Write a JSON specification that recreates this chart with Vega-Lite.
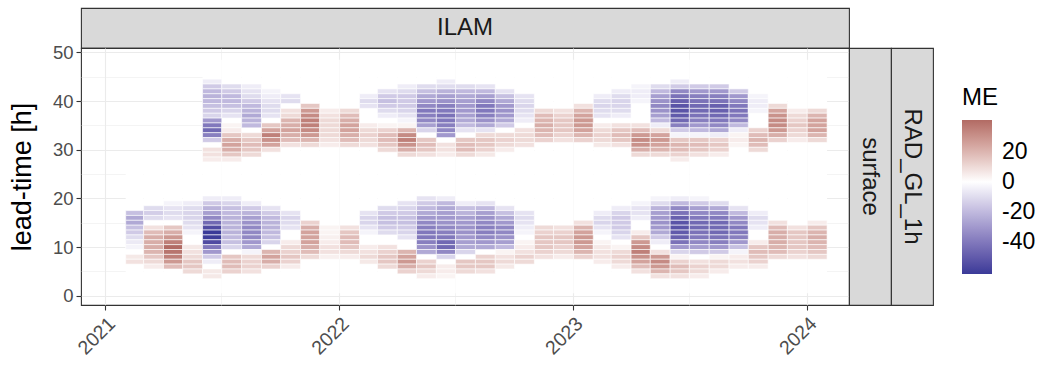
{
"$schema": "https://vega.github.io/schema/vega-lite/v6.json",
"background": "white",
"padding": {"left": 7, "top": 7, "right": 5, "bottom": 5},
"config": {"font": "Liberation Sans", "view": {"stroke": null}, "concat": {"spacing": 0}},
"bounds": "flush",
"spacing": 0,
"vconcat": [
{"width": 768, "height": 40,
 "data": {"values": [{"s": "ILAM"}]},
 "mark": {"type": "text", "fontSize": 24, "color": "#1A1A1A"},
 "encoding": {"text": {"field": "s", "type": "nominal"}},
 "view": {"fill": "#D9D9D9", "stroke": "#333333", "strokeWidth": 1.1}},
{"hconcat": [
 {"width": 768, "height": 257,
  "view": {"stroke": "#333333", "strokeWidth": 1.1},
  "layer": [
   {"data": {"values": [
{"m":"2021-02","lo":0.5,"hi":27.5},{"m":"2021-03","lo":0.5,"hi":27.5},{"m":"2021-04","lo":0.5,"hi":27.5},{"m":"2021-05","lo":0.5,"hi":27.5},
{"m":"2021-06","lo":0.5,"hi":48.5},{"m":"2021-07","lo":0.5,"hi":48.5},{"m":"2021-08","lo":0.5,"hi":48.5},{"m":"2021-09","lo":0.5,"hi":48.5},
{"m":"2021-10","lo":0.5,"hi":48.5},{"m":"2021-11","lo":0.5,"hi":48.5},{"m":"2021-12","lo":0.5,"hi":48.5},{"m":"2022-01","lo":0.5,"hi":48.5},
{"m":"2022-02","lo":0.5,"hi":48.5},{"m":"2022-03","lo":0.5,"hi":48.5},{"m":"2022-04","lo":0.5,"hi":48.5},{"m":"2022-05","lo":0.5,"hi":48.5},
{"m":"2022-06","lo":0.5,"hi":48.5},{"m":"2022-07","lo":0.5,"hi":48.5},{"m":"2022-08","lo":0.5,"hi":48.5},{"m":"2022-09","lo":0.5,"hi":48.5},
{"m":"2022-10","lo":0.5,"hi":48.5},{"m":"2022-11","lo":0.5,"hi":48.5},{"m":"2022-12","lo":0.5,"hi":48.5},{"m":"2023-01","lo":0.5,"hi":48.5},
{"m":"2023-02","lo":0.5,"hi":48.5},{"m":"2023-03","lo":0.5,"hi":48.5},{"m":"2023-04","lo":0.5,"hi":48.5},{"m":"2023-05","lo":0.5,"hi":48.5},
{"m":"2023-06","lo":0.5,"hi":48.5},{"m":"2023-07","lo":0.5,"hi":48.5},{"m":"2023-08","lo":0.5,"hi":48.5},{"m":"2023-09","lo":0.5,"hi":48.5},
{"m":"2023-10","lo":0.5,"hi":48.5},{"m":"2023-11","lo":0.5,"hi":48.5},{"m":"2023-12","lo":0.5,"hi":48.5},{"m":"2024-01","lo":0.5,"hi":48.5}
    ]},
    "mark": {"type": "rect", "fill": "white"},
    "encoding": {
     "x": {"field": "m", "type": "temporal", "timeUnit": "utcyearmonth",
       "scale": {"domain": [{"year": 2020, "month": 11, "date": 24, "utc": true}, {"year": 2024, "month": 3, "date": 7, "utc": true}]},
       "axis": {"orient": "top", "values": [{"year": 2021, "month": 7, "date": 1, "utc": true}, {"year": 2022, "month": 7, "date": 1, "utc": true}, {"year": 2023, "month": 7, "date": 1, "utc": true}],
         "grid": true, "gridColor": "#EBEBEB", "gridWidth": 0.55, "labels": false, "ticks": false, "domain": false, "title": null}},
     "y": {"field": "lo", "type": "quantitative",
       "scale": {"domain": [-1.9, 50.9], "nice": false, "zero": false},
       "axis": {"orient": "right", "values": [5, 15, 25, 35, 45], "grid": true, "gridColor": "#EBEBEB", "gridWidth": 0.55, "labels": false, "ticks": false, "domain": false, "title": null}},
     "y2": {"field": "hi"}
    }
   },
   {"data": {"values": [
{"m":"2021-02","h":17,"v":-18},{"m":"2021-02","h":16,"v":-25},{"m":"2021-02","h":15,"v":-25},{"m":"2021-02","h":14,"v":-18},{"m":"2021-02","h":13,"v":-15},{"m":"2021-02","h":12,"v":-10},{"m":"2021-02","h":11,"v":-6},{"m":"2021-02","h":10,"v":-3},{"m":"2021-02","h":8,"v":6},{"m":"2021-02","h":7,"v":8},
{"m":"2021-03","h":18,"v":-10},{"m":"2021-03","h":17,"v":-14},{"m":"2021-03","h":16,"v":-10},{"m":"2021-03","h":14,"v":8},{"m":"2021-03","h":13,"v":18},{"m":"2021-03","h":12,"v":22},{"m":"2021-03","h":11,"v":22},{"m":"2021-03","h":10,"v":22},{"m":"2021-03","h":9,"v":20},{"m":"2021-03","h":8,"v":15},{"m":"2021-03","h":7,"v":10},{"m":"2021-03","h":6,"v":5},
{"m":"2021-04","h":19,"v":-3},{"m":"2021-04","h":18,"v":-8},{"m":"2021-04","h":17,"v":-10},{"m":"2021-04","h":16,"v":-8},{"m":"2021-04","h":14,"v":15},{"m":"2021-04","h":13,"v":22},{"m":"2021-04","h":12,"v":28},{"m":"2021-04","h":11,"v":35},{"m":"2021-04","h":10,"v":41},{"m":"2021-04","h":9,"v":38},{"m":"2021-04","h":8,"v":35},{"m":"2021-04","h":7,"v":28},{"m":"2021-04","h":6,"v":18},
{"m":"2021-05","h":19,"v":-5},{"m":"2021-05","h":18,"v":-10},{"m":"2021-05","h":17,"v":-12},{"m":"2021-05","h":16,"v":-12},{"m":"2021-05","h":15,"v":-10},{"m":"2021-05","h":14,"v":-8},{"m":"2021-05","h":13,"v":-3},{"m":"2021-05","h":10,"v":6},{"m":"2021-05","h":9,"v":8},{"m":"2021-05","h":8,"v":10},{"m":"2021-05","h":7,"v":15},{"m":"2021-05","h":6,"v":15},{"m":"2021-05","h":5,"v":10},
{"m":"2021-06","h":20,"v":-5},{"m":"2021-06","h":19,"v":-15},{"m":"2021-06","h":18,"v":-22},{"m":"2021-06","h":17,"v":-28},{"m":"2021-06","h":16,"v":-35},{"m":"2021-06","h":15,"v":-45},{"m":"2021-06","h":14,"v":-55},{"m":"2021-06","h":13,"v":-61},{"m":"2021-06","h":12,"v":-60},{"m":"2021-06","h":11,"v":-55},{"m":"2021-06","h":10,"v":-40},{"m":"2021-06","h":9,"v":-30},{"m":"2021-06","h":8,"v":-15},{"m":"2021-06","h":7,"v":-5},{"m":"2021-06","h":5,"v":6},{"m":"2021-06","h":4,"v":6},
{"m":"2021-06","h":44,"v":-5},{"m":"2021-06","h":43,"v":-15},{"m":"2021-06","h":42,"v":-20},{"m":"2021-06","h":41,"v":-22},{"m":"2021-06","h":40,"v":-20},{"m":"2021-06","h":39,"v":-18},{"m":"2021-06","h":38,"v":-15},{"m":"2021-06","h":37,"v":-12},{"m":"2021-06","h":36,"v":-30},{"m":"2021-06","h":35,"v":-40},{"m":"2021-06","h":34,"v":-45},{"m":"2021-06","h":33,"v":-38},{"m":"2021-06","h":32,"v":-15},{"m":"2021-06","h":30,"v":8},{"m":"2021-06","h":29,"v":8},{"m":"2021-06","h":28,"v":5},
{"m":"2021-07","h":20,"v":-5},{"m":"2021-07","h":19,"v":-12},{"m":"2021-07","h":18,"v":-18},{"m":"2021-07","h":17,"v":-20},{"m":"2021-07","h":16,"v":-22},{"m":"2021-07","h":15,"v":-22},{"m":"2021-07","h":14,"v":-22},{"m":"2021-07","h":13,"v":-22},{"m":"2021-07","h":12,"v":-20},{"m":"2021-07","h":11,"v":-18},{"m":"2021-07","h":10,"v":-12},{"m":"2021-07","h":8,"v":15},{"m":"2021-07","h":7,"v":18},{"m":"2021-07","h":6,"v":18},{"m":"2021-07","h":5,"v":12},
{"m":"2021-07","h":43,"v":-10},{"m":"2021-07","h":42,"v":-15},{"m":"2021-07","h":41,"v":-20},{"m":"2021-07","h":40,"v":-20},{"m":"2021-07","h":39,"v":-18},{"m":"2021-07","h":38,"v":-12},{"m":"2021-07","h":37,"v":-8},{"m":"2021-07","h":35,"v":3},{"m":"2021-07","h":34,"v":5},{"m":"2021-07","h":33,"v":15},{"m":"2021-07","h":32,"v":22},{"m":"2021-07","h":31,"v":25},{"m":"2021-07","h":30,"v":22},{"m":"2021-07","h":29,"v":15},{"m":"2021-07","h":28,"v":5},
{"m":"2021-08","h":19,"v":-5},{"m":"2021-08","h":18,"v":-15},{"m":"2021-08","h":17,"v":-22},{"m":"2021-08","h":16,"v":-28},{"m":"2021-08","h":15,"v":-32},{"m":"2021-08","h":14,"v":-35},{"m":"2021-08","h":13,"v":-35},{"m":"2021-08","h":12,"v":-35},{"m":"2021-08","h":11,"v":-30},{"m":"2021-08","h":10,"v":-25},{"m":"2021-08","h":9,"v":-3},{"m":"2021-08","h":8,"v":10},{"m":"2021-08","h":7,"v":12},{"m":"2021-08","h":6,"v":12},{"m":"2021-08","h":5,"v":8},
{"m":"2021-08","h":43,"v":-5},{"m":"2021-08","h":42,"v":-8},{"m":"2021-08","h":41,"v":-10},{"m":"2021-08","h":40,"v":-15},{"m":"2021-08","h":39,"v":-20},{"m":"2021-08","h":38,"v":-22},{"m":"2021-08","h":37,"v":-25},{"m":"2021-08","h":36,"v":-22},{"m":"2021-08","h":35,"v":-20},{"m":"2021-08","h":33,"v":10},{"m":"2021-08","h":32,"v":15},{"m":"2021-08","h":31,"v":18},{"m":"2021-08","h":30,"v":15},{"m":"2021-08","h":29,"v":10},
{"m":"2021-09","h":18,"v":-8},{"m":"2021-09","h":17,"v":-15},{"m":"2021-09","h":16,"v":-20},{"m":"2021-09","h":15,"v":-22},{"m":"2021-09","h":14,"v":-22},{"m":"2021-09","h":13,"v":-20},{"m":"2021-09","h":12,"v":-18},{"m":"2021-09","h":11,"v":-12},{"m":"2021-09","h":9,"v":20},{"m":"2021-09","h":8,"v":25},{"m":"2021-09","h":7,"v":22},{"m":"2021-09","h":6,"v":12},
{"m":"2021-09","h":42,"v":-3},{"m":"2021-09","h":41,"v":-5},{"m":"2021-09","h":40,"v":-8},{"m":"2021-09","h":39,"v":-10},{"m":"2021-09","h":38,"v":-10},{"m":"2021-09","h":37,"v":-8},{"m":"2021-09","h":35,"v":15},{"m":"2021-09","h":34,"v":25},{"m":"2021-09","h":33,"v":35},{"m":"2021-09","h":32,"v":30},{"m":"2021-09","h":31,"v":25},{"m":"2021-09","h":30,"v":8},
{"m":"2021-10","h":17,"v":-8},{"m":"2021-10","h":16,"v":-12},{"m":"2021-10","h":15,"v":-10},{"m":"2021-10","h":14,"v":-8},{"m":"2021-10","h":11,"v":5},{"m":"2021-10","h":10,"v":10},{"m":"2021-10","h":9,"v":12},{"m":"2021-10","h":8,"v":15},{"m":"2021-10","h":7,"v":12},{"m":"2021-10","h":6,"v":5},
{"m":"2021-10","h":41,"v":-8},{"m":"2021-10","h":40,"v":-10},{"m":"2021-10","h":38,"v":8},{"m":"2021-10","h":37,"v":10},{"m":"2021-10","h":36,"v":20},{"m":"2021-10","h":35,"v":22},{"m":"2021-10","h":34,"v":25},{"m":"2021-10","h":33,"v":22},{"m":"2021-10","h":32,"v":18},{"m":"2021-10","h":31,"v":8},
{"m":"2021-11","h":15,"v":12},{"m":"2021-11","h":14,"v":22},{"m":"2021-11","h":13,"v":25},{"m":"2021-11","h":12,"v":25},{"m":"2021-11","h":11,"v":25},{"m":"2021-11","h":10,"v":22},{"m":"2021-11","h":9,"v":18},{"m":"2021-11","h":8,"v":10},
{"m":"2021-11","h":39,"v":15},{"m":"2021-11","h":38,"v":28},{"m":"2021-11","h":37,"v":32},{"m":"2021-11","h":36,"v":35},{"m":"2021-11","h":35,"v":35},{"m":"2021-11","h":34,"v":32},{"m":"2021-11","h":33,"v":28},{"m":"2021-11","h":32,"v":20},{"m":"2021-11","h":31,"v":10},
{"m":"2021-12","h":14,"v":3},{"m":"2021-12","h":13,"v":3},{"m":"2021-12","h":12,"v":4},{"m":"2021-12","h":11,"v":5},{"m":"2021-12","h":10,"v":8},{"m":"2021-12","h":9,"v":8},{"m":"2021-12","h":8,"v":4},
{"m":"2021-12","h":38,"v":5},{"m":"2021-12","h":37,"v":8},{"m":"2021-12","h":36,"v":10},{"m":"2021-12","h":35,"v":10},{"m":"2021-12","h":34,"v":10},{"m":"2021-12","h":33,"v":10},{"m":"2021-12","h":32,"v":8},{"m":"2021-12","h":31,"v":5},
{"m":"2022-01","h":14,"v":8},{"m":"2022-01","h":13,"v":15},{"m":"2022-01","h":12,"v":18},{"m":"2022-01","h":11,"v":18},{"m":"2022-01","h":10,"v":15},{"m":"2022-01","h":9,"v":10},{"m":"2022-01","h":8,"v":5},
{"m":"2022-01","h":38,"v":10},{"m":"2022-01","h":37,"v":18},{"m":"2022-01","h":36,"v":22},{"m":"2022-01","h":35,"v":25},{"m":"2022-01","h":34,"v":25},{"m":"2022-01","h":33,"v":22},{"m":"2022-01","h":32,"v":18},{"m":"2022-01","h":31,"v":10},
{"m":"2022-02","h":17,"v":-8},{"m":"2022-02","h":16,"v":-12},{"m":"2022-02","h":15,"v":-12},{"m":"2022-02","h":14,"v":-8},{"m":"2022-02","h":13,"v":-3},{"m":"2022-02","h":10,"v":5},{"m":"2022-02","h":9,"v":8},{"m":"2022-02","h":8,"v":10},{"m":"2022-02","h":7,"v":6},
{"m":"2022-02","h":41,"v":-5},{"m":"2022-02","h":40,"v":-10},{"m":"2022-02","h":39,"v":-8},{"m":"2022-02","h":35,"v":5},{"m":"2022-02","h":34,"v":10},{"m":"2022-02","h":33,"v":12},{"m":"2022-02","h":32,"v":10},{"m":"2022-02","h":31,"v":8},
{"m":"2022-03","h":18,"v":-10},{"m":"2022-03","h":17,"v":-15},{"m":"2022-03","h":16,"v":-18},{"m":"2022-03","h":15,"v":-18},{"m":"2022-03","h":14,"v":-15},{"m":"2022-03","h":13,"v":-10},{"m":"2022-03","h":10,"v":8},{"m":"2022-03","h":9,"v":12},{"m":"2022-03","h":8,"v":15},{"m":"2022-03","h":7,"v":15},{"m":"2022-03","h":6,"v":10},
{"m":"2022-03","h":42,"v":-8},{"m":"2022-03","h":41,"v":-15},{"m":"2022-03","h":40,"v":-18},{"m":"2022-03","h":39,"v":-15},{"m":"2022-03","h":38,"v":-10},{"m":"2022-03","h":37,"v":-5},{"m":"2022-03","h":35,"v":3},{"m":"2022-03","h":34,"v":12},{"m":"2022-03","h":33,"v":18},{"m":"2022-03","h":32,"v":18},{"m":"2022-03","h":31,"v":15},{"m":"2022-03","h":30,"v":10},
{"m":"2022-04","h":19,"v":-8},{"m":"2022-04","h":18,"v":-12},{"m":"2022-04","h":17,"v":-15},{"m":"2022-04","h":16,"v":-18},{"m":"2022-04","h":15,"v":-18},{"m":"2022-04","h":14,"v":-15},{"m":"2022-04","h":13,"v":-12},{"m":"2022-04","h":12,"v":-8},{"m":"2022-04","h":9,"v":20},{"m":"2022-04","h":8,"v":25},{"m":"2022-04","h":7,"v":28},{"m":"2022-04","h":6,"v":22},{"m":"2022-04","h":5,"v":12},
{"m":"2022-04","h":43,"v":-5},{"m":"2022-04","h":42,"v":-10},{"m":"2022-04","h":41,"v":-15},{"m":"2022-04","h":40,"v":-15},{"m":"2022-04","h":39,"v":-15},{"m":"2022-04","h":38,"v":-12},{"m":"2022-04","h":37,"v":-8},{"m":"2022-04","h":36,"v":-3},{"m":"2022-04","h":35,"v":3},{"m":"2022-04","h":34,"v":20},{"m":"2022-04","h":33,"v":32},{"m":"2022-04","h":32,"v":35},{"m":"2022-04","h":31,"v":30},{"m":"2022-04","h":30,"v":22},{"m":"2022-04","h":29,"v":10},
{"m":"2022-05","h":20,"v":-8},{"m":"2022-05","h":19,"v":-15},{"m":"2022-05","h":18,"v":-20},{"m":"2022-05","h":17,"v":-25},{"m":"2022-05","h":16,"v":-30},{"m":"2022-05","h":15,"v":-35},{"m":"2022-05","h":14,"v":-38},{"m":"2022-05","h":13,"v":-40},{"m":"2022-05","h":12,"v":-40},{"m":"2022-05","h":11,"v":-38},{"m":"2022-05","h":10,"v":-32},{"m":"2022-05","h":9,"v":-25},{"m":"2022-05","h":7,"v":12},{"m":"2022-05","h":6,"v":15},{"m":"2022-05","h":5,"v":10},{"m":"2022-05","h":4,"v":5},
{"m":"2022-05","h":43,"v":-10},{"m":"2022-05","h":42,"v":-18},{"m":"2022-05","h":41,"v":-25},{"m":"2022-05","h":40,"v":-30},{"m":"2022-05","h":39,"v":-35},{"m":"2022-05","h":38,"v":-40},{"m":"2022-05","h":37,"v":-38},{"m":"2022-05","h":36,"v":-35},{"m":"2022-05","h":35,"v":-28},{"m":"2022-05","h":34,"v":-12},{"m":"2022-05","h":32,"v":15},{"m":"2022-05","h":31,"v":18},{"m":"2022-05","h":30,"v":15},{"m":"2022-05","h":29,"v":8},
{"m":"2022-06","h":20,"v":-5},{"m":"2022-06","h":19,"v":-20},{"m":"2022-06","h":18,"v":-25},{"m":"2022-06","h":17,"v":-28},{"m":"2022-06","h":16,"v":-30},{"m":"2022-06","h":15,"v":-32},{"m":"2022-06","h":14,"v":-35},{"m":"2022-06","h":13,"v":-38},{"m":"2022-06","h":12,"v":-40},{"m":"2022-06","h":11,"v":-45},{"m":"2022-06","h":10,"v":-45},{"m":"2022-06","h":9,"v":-35},{"m":"2022-06","h":8,"v":-12},{"m":"2022-06","h":6,"v":5},{"m":"2022-06","h":5,"v":5},{"m":"2022-06","h":4,"v":3},
{"m":"2022-06","h":44,"v":-5},{"m":"2022-06","h":43,"v":-10},{"m":"2022-06","h":42,"v":-22},{"m":"2022-06","h":41,"v":-28},{"m":"2022-06","h":40,"v":-32},{"m":"2022-06","h":39,"v":-38},{"m":"2022-06","h":38,"v":-40},{"m":"2022-06","h":37,"v":-42},{"m":"2022-06","h":36,"v":-40},{"m":"2022-06","h":35,"v":-38},{"m":"2022-06","h":34,"v":-35},{"m":"2022-06","h":33,"v":-30},{"m":"2022-06","h":31,"v":8},{"m":"2022-06","h":30,"v":8},{"m":"2022-06","h":29,"v":5},
{"m":"2022-07","h":19,"v":-5},{"m":"2022-07","h":18,"v":-18},{"m":"2022-07","h":17,"v":-22},{"m":"2022-07","h":16,"v":-28},{"m":"2022-07","h":15,"v":-30},{"m":"2022-07","h":14,"v":-32},{"m":"2022-07","h":13,"v":-32},{"m":"2022-07","h":12,"v":-30},{"m":"2022-07","h":11,"v":-28},{"m":"2022-07","h":10,"v":-25},{"m":"2022-07","h":9,"v":-12},{"m":"2022-07","h":7,"v":15},{"m":"2022-07","h":6,"v":15},{"m":"2022-07","h":5,"v":10},
{"m":"2022-07","h":43,"v":-10},{"m":"2022-07","h":42,"v":-20},{"m":"2022-07","h":41,"v":-25},{"m":"2022-07","h":40,"v":-28},{"m":"2022-07","h":39,"v":-30},{"m":"2022-07","h":38,"v":-30},{"m":"2022-07","h":37,"v":-28},{"m":"2022-07","h":36,"v":-25},{"m":"2022-07","h":35,"v":-20},{"m":"2022-07","h":34,"v":-8},{"m":"2022-07","h":32,"v":15},{"m":"2022-07","h":31,"v":18},{"m":"2022-07","h":30,"v":18},{"m":"2022-07","h":29,"v":10},
{"m":"2022-08","h":19,"v":-8},{"m":"2022-08","h":18,"v":-20},{"m":"2022-08","h":17,"v":-28},{"m":"2022-08","h":16,"v":-32},{"m":"2022-08","h":15,"v":-35},{"m":"2022-08","h":14,"v":-38},{"m":"2022-08","h":13,"v":-38},{"m":"2022-08","h":12,"v":-35},{"m":"2022-08","h":11,"v":-30},{"m":"2022-08","h":10,"v":-25},{"m":"2022-08","h":8,"v":12},{"m":"2022-08","h":7,"v":15},{"m":"2022-08","h":6,"v":15},{"m":"2022-08","h":5,"v":8},
{"m":"2022-08","h":43,"v":-8},{"m":"2022-08","h":42,"v":-20},{"m":"2022-08","h":41,"v":-28},{"m":"2022-08","h":40,"v":-35},{"m":"2022-08","h":39,"v":-40},{"m":"2022-08","h":38,"v":-40},{"m":"2022-08","h":37,"v":-38},{"m":"2022-08","h":36,"v":-32},{"m":"2022-08","h":35,"v":-25},{"m":"2022-08","h":34,"v":-8},{"m":"2022-08","h":33,"v":10},{"m":"2022-08","h":32,"v":15},{"m":"2022-08","h":31,"v":15},{"m":"2022-08","h":30,"v":12},{"m":"2022-08","h":29,"v":6},
{"m":"2022-09","h":18,"v":-8},{"m":"2022-09","h":17,"v":-18},{"m":"2022-09","h":16,"v":-25},{"m":"2022-09","h":15,"v":-30},{"m":"2022-09","h":14,"v":-35},{"m":"2022-09","h":13,"v":-35},{"m":"2022-09","h":12,"v":-32},{"m":"2022-09","h":11,"v":-28},{"m":"2022-09","h":10,"v":-20},{"m":"2022-09","h":9,"v":3},{"m":"2022-09","h":8,"v":8},{"m":"2022-09","h":7,"v":10},{"m":"2022-09","h":6,"v":6},
{"m":"2022-09","h":42,"v":-8},{"m":"2022-09","h":41,"v":-18},{"m":"2022-09","h":40,"v":-25},{"m":"2022-09","h":39,"v":-30},{"m":"2022-09","h":38,"v":-32},{"m":"2022-09","h":37,"v":-30},{"m":"2022-09","h":36,"v":-25},{"m":"2022-09","h":35,"v":-15},{"m":"2022-09","h":33,"v":10},{"m":"2022-09","h":32,"v":12},{"m":"2022-09","h":31,"v":10},{"m":"2022-09","h":30,"v":5},
{"m":"2022-10","h":17,"v":-8},{"m":"2022-10","h":16,"v":-10},{"m":"2022-10","h":15,"v":-8},{"m":"2022-10","h":14,"v":-5},{"m":"2022-10","h":13,"v":-3},{"m":"2022-10","h":11,"v":3},{"m":"2022-10","h":10,"v":5},{"m":"2022-10","h":9,"v":8},{"m":"2022-10","h":8,"v":12},{"m":"2022-10","h":7,"v":10},
{"m":"2022-10","h":41,"v":-8},{"m":"2022-10","h":40,"v":-10},{"m":"2022-10","h":39,"v":-12},{"m":"2022-10","h":38,"v":-10},{"m":"2022-10","h":37,"v":-8},{"m":"2022-10","h":36,"v":-5},{"m":"2022-10","h":34,"v":8},{"m":"2022-10","h":33,"v":10},{"m":"2022-10","h":32,"v":10},{"m":"2022-10","h":31,"v":8},
{"m":"2022-11","h":14,"v":10},{"m":"2022-11","h":13,"v":12},{"m":"2022-11","h":12,"v":15},{"m":"2022-11","h":11,"v":15},{"m":"2022-11","h":10,"v":15},{"m":"2022-11","h":9,"v":12},{"m":"2022-11","h":8,"v":8},
{"m":"2022-11","h":38,"v":10},{"m":"2022-11","h":37,"v":18},{"m":"2022-11","h":36,"v":20},{"m":"2022-11","h":35,"v":22},{"m":"2022-11","h":34,"v":20},{"m":"2022-11","h":33,"v":18},{"m":"2022-11","h":32,"v":12},
{"m":"2022-12","h":14,"v":8},{"m":"2022-12","h":13,"v":12},{"m":"2022-12","h":12,"v":15},{"m":"2022-12","h":11,"v":15},{"m":"2022-12","h":10,"v":12},{"m":"2022-12","h":9,"v":10},{"m":"2022-12","h":8,"v":5},
{"m":"2022-12","h":38,"v":8},{"m":"2022-12","h":37,"v":12},{"m":"2022-12","h":36,"v":15},{"m":"2022-12","h":35,"v":15},{"m":"2022-12","h":34,"v":15},{"m":"2022-12","h":33,"v":12},{"m":"2022-12","h":32,"v":8},
{"m":"2023-01","h":15,"v":8},{"m":"2023-01","h":14,"v":20},{"m":"2023-01","h":13,"v":25},{"m":"2023-01","h":12,"v":28},{"m":"2023-01","h":11,"v":28},{"m":"2023-01","h":10,"v":25},{"m":"2023-01","h":9,"v":20},{"m":"2023-01","h":8,"v":12},
{"m":"2023-01","h":39,"v":8},{"m":"2023-01","h":38,"v":20},{"m":"2023-01","h":37,"v":25},{"m":"2023-01","h":36,"v":28},{"m":"2023-01","h":35,"v":28},{"m":"2023-01","h":34,"v":25},{"m":"2023-01","h":33,"v":20},{"m":"2023-01","h":32,"v":12},
{"m":"2023-02","h":17,"v":-5},{"m":"2023-02","h":16,"v":-10},{"m":"2023-02","h":15,"v":-12},{"m":"2023-02","h":14,"v":-8},{"m":"2023-02","h":13,"v":-3},{"m":"2023-02","h":11,"v":3},{"m":"2023-02","h":10,"v":6},{"m":"2023-02","h":9,"v":8},{"m":"2023-02","h":8,"v":8},{"m":"2023-02","h":7,"v":5},
{"m":"2023-02","h":41,"v":-5},{"m":"2023-02","h":40,"v":-10},{"m":"2023-02","h":39,"v":-12},{"m":"2023-02","h":38,"v":-10},{"m":"2023-02","h":37,"v":-8},{"m":"2023-02","h":35,"v":5},{"m":"2023-02","h":34,"v":10},{"m":"2023-02","h":33,"v":12},{"m":"2023-02","h":32,"v":10},{"m":"2023-02","h":31,"v":6},
{"m":"2023-03","h":18,"v":-5},{"m":"2023-03","h":17,"v":-12},{"m":"2023-03","h":16,"v":-15},{"m":"2023-03","h":15,"v":-15},{"m":"2023-03","h":14,"v":-15},{"m":"2023-03","h":13,"v":-12},{"m":"2023-03","h":12,"v":-8},{"m":"2023-03","h":10,"v":3},{"m":"2023-03","h":9,"v":10},{"m":"2023-03","h":8,"v":12},{"m":"2023-03","h":7,"v":10},{"m":"2023-03","h":6,"v":5},
{"m":"2023-03","h":42,"v":-5},{"m":"2023-03","h":41,"v":-10},{"m":"2023-03","h":40,"v":-12},{"m":"2023-03","h":39,"v":-12},{"m":"2023-03","h":38,"v":-10},{"m":"2023-03","h":37,"v":-5},{"m":"2023-03","h":35,"v":8},{"m":"2023-03","h":34,"v":15},{"m":"2023-03","h":33,"v":18},{"m":"2023-03","h":32,"v":15},{"m":"2023-03","h":31,"v":8},
{"m":"2023-04","h":19,"v":-3},{"m":"2023-04","h":18,"v":-8},{"m":"2023-04","h":17,"v":-8},{"m":"2023-04","h":16,"v":-5},{"m":"2023-04","h":13,"v":5},{"m":"2023-04","h":12,"v":15},{"m":"2023-04","h":11,"v":28},{"m":"2023-04","h":10,"v":32},{"m":"2023-04","h":9,"v":35},{"m":"2023-04","h":8,"v":30},{"m":"2023-04","h":7,"v":25},{"m":"2023-04","h":6,"v":18},{"m":"2023-04","h":5,"v":8},
{"m":"2023-04","h":43,"v":-3},{"m":"2023-04","h":42,"v":-5},{"m":"2023-04","h":41,"v":-5},{"m":"2023-04","h":40,"v":-3},{"m":"2023-04","h":35,"v":8},{"m":"2023-04","h":34,"v":18},{"m":"2023-04","h":33,"v":28},{"m":"2023-04","h":32,"v":32},{"m":"2023-04","h":31,"v":30},{"m":"2023-04","h":30,"v":22},{"m":"2023-04","h":29,"v":10},
{"m":"2023-05","h":20,"v":-3},{"m":"2023-05","h":19,"v":-10},{"m":"2023-05","h":18,"v":-22},{"m":"2023-05","h":17,"v":-28},{"m":"2023-05","h":16,"v":-30},{"m":"2023-05","h":15,"v":-32},{"m":"2023-05","h":14,"v":-30},{"m":"2023-05","h":13,"v":-25},{"m":"2023-05","h":12,"v":-15},{"m":"2023-05","h":11,"v":-5},{"m":"2023-05","h":9,"v":8},{"m":"2023-05","h":8,"v":28},{"m":"2023-05","h":7,"v":32},{"m":"2023-05","h":6,"v":28},{"m":"2023-05","h":5,"v":20},{"m":"2023-05","h":4,"v":8},
{"m":"2023-05","h":43,"v":-10},{"m":"2023-05","h":42,"v":-20},{"m":"2023-05","h":41,"v":-28},{"m":"2023-05","h":40,"v":-32},{"m":"2023-05","h":39,"v":-35},{"m":"2023-05","h":38,"v":-32},{"m":"2023-05","h":37,"v":-28},{"m":"2023-05","h":36,"v":-20},{"m":"2023-05","h":35,"v":-5},{"m":"2023-05","h":34,"v":10},{"m":"2023-05","h":33,"v":25},{"m":"2023-05","h":32,"v":28},{"m":"2023-05","h":31,"v":25},{"m":"2023-05","h":30,"v":20},{"m":"2023-05","h":29,"v":10},
{"m":"2023-06","h":20,"v":-5},{"m":"2023-06","h":19,"v":-20},{"m":"2023-06","h":18,"v":-35},{"m":"2023-06","h":17,"v":-42},{"m":"2023-06","h":16,"v":-48},{"m":"2023-06","h":15,"v":-52},{"m":"2023-06","h":14,"v":-52},{"m":"2023-06","h":13,"v":-50},{"m":"2023-06","h":12,"v":-48},{"m":"2023-06","h":11,"v":-42},{"m":"2023-06","h":10,"v":-30},{"m":"2023-06","h":9,"v":-12},{"m":"2023-06","h":8,"v":3},{"m":"2023-06","h":7,"v":12},{"m":"2023-06","h":6,"v":18},{"m":"2023-06","h":5,"v":15},{"m":"2023-06","h":4,"v":8},
{"m":"2023-06","h":44,"v":-5},{"m":"2023-06","h":43,"v":-15},{"m":"2023-06","h":42,"v":-35},{"m":"2023-06","h":41,"v":-42},{"m":"2023-06","h":40,"v":-48},{"m":"2023-06","h":39,"v":-52},{"m":"2023-06","h":38,"v":-52},{"m":"2023-06","h":37,"v":-50},{"m":"2023-06","h":36,"v":-45},{"m":"2023-06","h":35,"v":-38},{"m":"2023-06","h":34,"v":-15},{"m":"2023-06","h":33,"v":-3},{"m":"2023-06","h":32,"v":15},{"m":"2023-06","h":31,"v":20},{"m":"2023-06","h":30,"v":18},{"m":"2023-06","h":29,"v":12},{"m":"2023-06","h":28,"v":5},
{"m":"2023-07","h":20,"v":-3},{"m":"2023-07","h":19,"v":-15},{"m":"2023-07","h":18,"v":-28},{"m":"2023-07","h":17,"v":-35},{"m":"2023-07","h":16,"v":-40},{"m":"2023-07","h":15,"v":-45},{"m":"2023-07","h":14,"v":-45},{"m":"2023-07","h":13,"v":-42},{"m":"2023-07","h":12,"v":-40},{"m":"2023-07","h":11,"v":-35},{"m":"2023-07","h":10,"v":-28},{"m":"2023-07","h":9,"v":-15},{"m":"2023-07","h":7,"v":8},{"m":"2023-07","h":6,"v":12},{"m":"2023-07","h":5,"v":10},{"m":"2023-07","h":4,"v":5},
{"m":"2023-07","h":43,"v":-15},{"m":"2023-07","h":42,"v":-30},{"m":"2023-07","h":41,"v":-38},{"m":"2023-07","h":40,"v":-42},{"m":"2023-07","h":39,"v":-45},{"m":"2023-07","h":38,"v":-45},{"m":"2023-07","h":37,"v":-42},{"m":"2023-07","h":36,"v":-38},{"m":"2023-07","h":35,"v":-30},{"m":"2023-07","h":34,"v":-20},{"m":"2023-07","h":33,"v":-3},{"m":"2023-07","h":32,"v":15},{"m":"2023-07","h":31,"v":18},{"m":"2023-07","h":30,"v":15},{"m":"2023-07","h":29,"v":8},
{"m":"2023-08","h":19,"v":-10},{"m":"2023-08","h":18,"v":-25},{"m":"2023-08","h":17,"v":-35},{"m":"2023-08","h":16,"v":-40},{"m":"2023-08","h":15,"v":-45},{"m":"2023-08","h":14,"v":-45},{"m":"2023-08","h":13,"v":-45},{"m":"2023-08","h":12,"v":-42},{"m":"2023-08","h":11,"v":-38},{"m":"2023-08","h":10,"v":-30},{"m":"2023-08","h":9,"v":-15},{"m":"2023-08","h":8,"v":3},{"m":"2023-08","h":7,"v":10},{"m":"2023-08","h":6,"v":10},{"m":"2023-08","h":5,"v":5},
{"m":"2023-08","h":43,"v":-15},{"m":"2023-08","h":42,"v":-30},{"m":"2023-08","h":41,"v":-38},{"m":"2023-08","h":40,"v":-42},{"m":"2023-08","h":39,"v":-48},{"m":"2023-08","h":38,"v":-48},{"m":"2023-08","h":37,"v":-45},{"m":"2023-08","h":36,"v":-40},{"m":"2023-08","h":35,"v":-35},{"m":"2023-08","h":34,"v":-25},{"m":"2023-08","h":33,"v":-5},{"m":"2023-08","h":32,"v":12},{"m":"2023-08","h":31,"v":15},{"m":"2023-08","h":30,"v":12},{"m":"2023-08","h":29,"v":5},
{"m":"2023-09","h":18,"v":-8},{"m":"2023-09","h":17,"v":-20},{"m":"2023-09","h":16,"v":-30},{"m":"2023-09","h":15,"v":-35},{"m":"2023-09","h":14,"v":-40},{"m":"2023-09","h":13,"v":-40},{"m":"2023-09","h":12,"v":-38},{"m":"2023-09","h":11,"v":-30},{"m":"2023-09","h":10,"v":-18},{"m":"2023-09","h":9,"v":-3},{"m":"2023-09","h":8,"v":5},{"m":"2023-09","h":7,"v":8},{"m":"2023-09","h":6,"v":5},
{"m":"2023-09","h":42,"v":-15},{"m":"2023-09","h":41,"v":-30},{"m":"2023-09","h":40,"v":-35},{"m":"2023-09","h":39,"v":-40},{"m":"2023-09","h":38,"v":-42},{"m":"2023-09","h":37,"v":-40},{"m":"2023-09","h":36,"v":-35},{"m":"2023-09","h":35,"v":-20},{"m":"2023-09","h":34,"v":-5},{"m":"2023-09","h":33,"v":3},{"m":"2023-09","h":32,"v":5},{"m":"2023-09","h":31,"v":3},
{"m":"2023-10","h":17,"v":-5},{"m":"2023-10","h":16,"v":-10},{"m":"2023-10","h":15,"v":-8},{"m":"2023-10","h":14,"v":-5},{"m":"2023-10","h":11,"v":5},{"m":"2023-10","h":10,"v":15},{"m":"2023-10","h":9,"v":18},{"m":"2023-10","h":8,"v":15},{"m":"2023-10","h":7,"v":12},{"m":"2023-10","h":6,"v":5},
{"m":"2023-10","h":41,"v":-3},{"m":"2023-10","h":40,"v":-5},{"m":"2023-10","h":39,"v":-5},{"m":"2023-10","h":38,"v":-3},{"m":"2023-10","h":34,"v":12},{"m":"2023-10","h":33,"v":18},{"m":"2023-10","h":32,"v":20},{"m":"2023-10","h":31,"v":18},{"m":"2023-10","h":30,"v":10},
{"m":"2023-11","h":15,"v":8},{"m":"2023-11","h":14,"v":18},{"m":"2023-11","h":13,"v":22},{"m":"2023-11","h":12,"v":22},{"m":"2023-11","h":11,"v":22},{"m":"2023-11","h":10,"v":20},{"m":"2023-11","h":9,"v":18},{"m":"2023-11","h":8,"v":10},
{"m":"2023-11","h":39,"v":10},{"m":"2023-11","h":38,"v":25},{"m":"2023-11","h":37,"v":30},{"m":"2023-11","h":36,"v":32},{"m":"2023-11","h":35,"v":32},{"m":"2023-11","h":34,"v":28},{"m":"2023-11","h":33,"v":22},{"m":"2023-11","h":32,"v":12},
{"m":"2023-12","h":14,"v":8},{"m":"2023-12","h":13,"v":15},{"m":"2023-12","h":12,"v":15},{"m":"2023-12","h":11,"v":15},{"m":"2023-12","h":10,"v":15},{"m":"2023-12","h":9,"v":12},{"m":"2023-12","h":8,"v":8},
{"m":"2023-12","h":38,"v":5},{"m":"2023-12","h":37,"v":10},{"m":"2023-12","h":36,"v":12},{"m":"2023-12","h":35,"v":15},{"m":"2023-12","h":34,"v":12},{"m":"2023-12","h":33,"v":10},{"m":"2023-12","h":32,"v":5},
{"m":"2024-01","h":15,"v":5},{"m":"2024-01","h":14,"v":15},{"m":"2024-01","h":13,"v":20},{"m":"2024-01","h":12,"v":22},{"m":"2024-01","h":11,"v":20},{"m":"2024-01","h":10,"v":18},{"m":"2024-01","h":9,"v":15},{"m":"2024-01","h":8,"v":10},
{"m":"2024-01","h":38,"v":10},{"m":"2024-01","h":37,"v":20},{"m":"2024-01","h":36,"v":25},{"m":"2024-01","h":35,"v":25},{"m":"2024-01","h":34,"v":25},{"m":"2024-01","h":33,"v":20},{"m":"2024-01","h":32,"v":10}
    ]},
    "mark": {"type": "rect", "height": 4.867, "stroke": "white", "strokeWidth": 0.6},
    "encoding": {
     "x": {"field": "m", "type": "temporal", "timeUnit": "utcyearmonth",
       "axis": {"values": [{"year": 2021, "month": 1, "date": 1, "utc": true}, {"year": 2022, "month": 1, "date": 1, "utc": true}, {"year": 2023, "month": 1, "date": 1, "utc": true}, {"year": 2024, "month": 1, "date": 1, "utc": true}],
         "format": "%Y", "title": null, "grid": true, "gridColor": "#EBEBEB", "gridWidth": 1.1, "domain": false,
         "ticks": true, "tickColor": "#333333", "tickSize": 5, "tickWidth": 1.1,
         "labelAngle": -45, "labelAlign": "right", "labelBaseline": "top", "labelFontSize": 19.5, "labelColor": "#4D4D4D", "labelPadding": 4}},
     "y": {"field": "h", "type": "quantitative",
       "axis": {"values": [0, 10, 20, 30, 40, 50], "title": "lead-time [h]", "titleFontSize": 27, "titleFontWeight": "normal", "titleColor": "black", "titlePadding": 16,
         "grid": true, "gridColor": "#EBEBEB", "gridWidth": 1.1, "domain": false,
         "ticks": true, "tickColor": "#333333", "tickSize": 5, "tickWidth": 1.1,
         "labelFontSize": 18.5, "labelColor": "#4D4D4D", "labelPadding": 3}},
     "color": {"field": "v", "type": "quantitative",
       "scale": {"domain": [-61, 0, 41], "range": ["#3A3A98", "#FFFFFF", "#B26B64"], "interpolate": "lab"},
       "legend": {"title": "ME", "titleFontSize": 24, "titleFontWeight": "normal", "titleColor": "black", "titlePadding": 10,
         "gradientLength": 154, "gradientThickness": 30, "gradientStrokeWidth": 0,
         "values": [-40, -20, 0, 20], "labelExpr": "datum.value < 0 ? '-' + abs(datum.value) : '' + datum.value",
         "labelFontSize": 23, "labelColor": "black", "labelOffset": 10,
         "orient": "none", "legendX": 881, "legendY": 78}}
    }
   }
  ],
  "resolve": {"axis": {"x": "independent", "y": "independent"}}
 },
 {"width": 42, "height": 257,
  "data": {"values": [{"s": "surface"}]},
  "mark": {"type": "text", "fontSize": 24, "color": "#1A1A1A", "angle": 90},
  "encoding": {"text": {"field": "s", "type": "nominal"}},
  "view": {"fill": "#D9D9D9", "stroke": "#333333", "strokeWidth": 1.1}},
 {"width": 42, "height": 257,
  "data": {"values": [{"s": "RAD_GL_1h"}]},
  "mark": {"type": "text", "fontSize": 24, "color": "#1A1A1A", "angle": 90},
  "encoding": {"text": {"field": "s", "type": "nominal"}},
  "view": {"fill": "#D9D9D9", "stroke": "#333333", "strokeWidth": 1.1}}
 ],
 "spacing": 0,
 "bounds": "flush"}
]
}
